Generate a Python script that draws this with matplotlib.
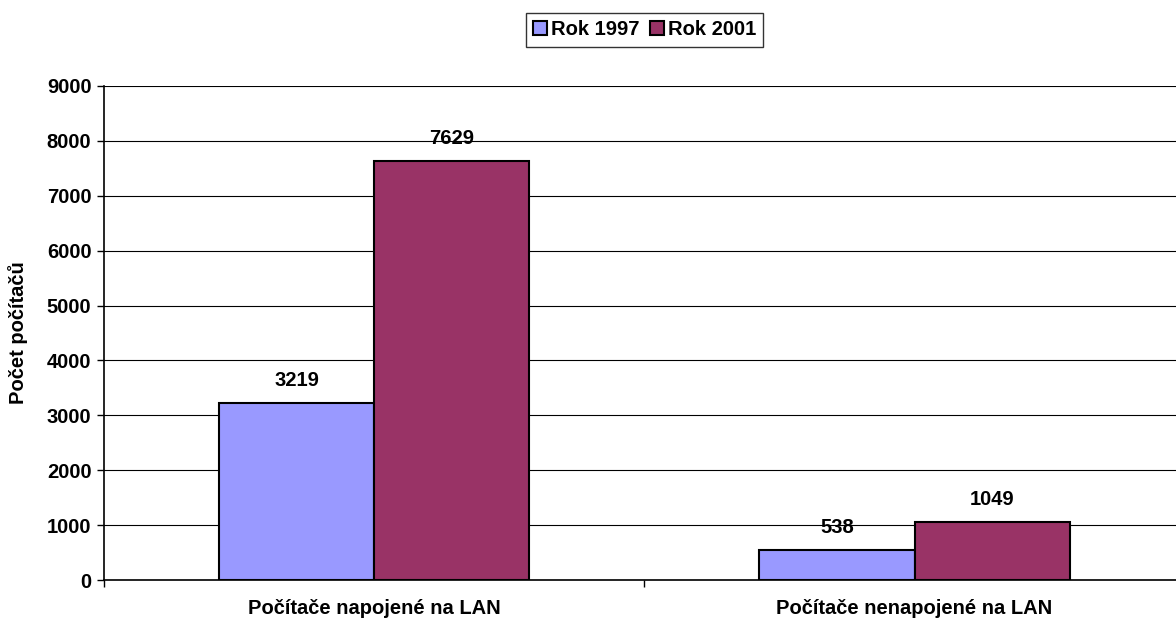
import numpy as np
import matplotlib.pyplot as plt
from matplotlib.ticker import FixedLocator

plt.rcParams['font.family'] = ['Liberation Sans', 'DejaVu Sans']
plt.rcParams['font.weight'] = 'bold'

kategorie = ['Počítače napojené na LAN', 'Počítače nenapojené na LAN']
rok_1997 = [3219, 538]
rok_2001 = [7629, 1049]
yticks = [0, 1000, 2000, 3000, 4000, 5000, 6000, 7000, 8000, 9000]

fs = 14.5

fig = plt.figure(figsize=(11.76, 6.24), dpi=100)
# osa presahuje pravy okraj obrazku jako v originale
ax = fig.add_axes([0.0884, 0.0705, 0.919, 0.7917])

x = np.arange(len(kategorie))
w = 0.287
b1 = ax.bar(x - w / 2, rok_1997, w, color='#9999ff', edgecolor='black', linewidth=1.5, label='Rok 1997', zorder=3)
b2 = ax.bar(x + w / 2, rok_2001, w, color='#993366', edgecolor='black', linewidth=1.5, label='Rok 2001', zorder=3)

for bars in (b1, b2):
    for r in bars:
        ax.text(r.get_x() + r.get_width() / 2, r.get_height() + 420, str(int(r.get_height())),
                ha='center', va='center', fontsize=fs, fontweight='bold')

ax.set_xlim(-0.5, 1.5)
ax.set_ylim(0, 9000)
ax.set_yticks(yticks)
ax.set_yticklabels([str(v) for v in yticks], fontsize=fs, fontweight='bold')
ax.set_xticks(x)
ax.set_xticklabels(kategorie, fontsize=fs, fontweight='bold')
ax.tick_params(axis='x', which='major', length=0, pad=14)
ax.xaxis.set_minor_locator(FixedLocator([-0.5, 0.5, 1.5]))
ax.tick_params(axis='x', which='minor', length=5, width=1, direction='out')
ax.tick_params(axis='y', length=5, width=1, direction='out', pad=4)
ax.grid(axis='y', color='black', linewidth=0.8, zorder=0)
for s in ['top', 'right']:
    ax.spines[s].set_visible(False)
ax.spines['left'].set_linewidth(1.2)
ax.spines['bottom'].set_linewidth(1.2)
fig.text(18 / 1176, 0.5 * (0.0705 + 0.862), 'Počet počítačů', rotation=90, ha='center', va='center',
         fontsize=fs, fontweight='bold')

leg = fig.legend(loc='center', bbox_to_anchor=(0.548, 0.952), ncol=2, fontsize=fs, frameon=True,
                 fancybox=False, edgecolor='black', handlelength=0.7, handleheight=0.7,
                 handletextpad=0.2, columnspacing=0.5, borderpad=0.35)
leg.get_frame().set_linewidth(1)

fig.savefig('out.png', dpi=100)
